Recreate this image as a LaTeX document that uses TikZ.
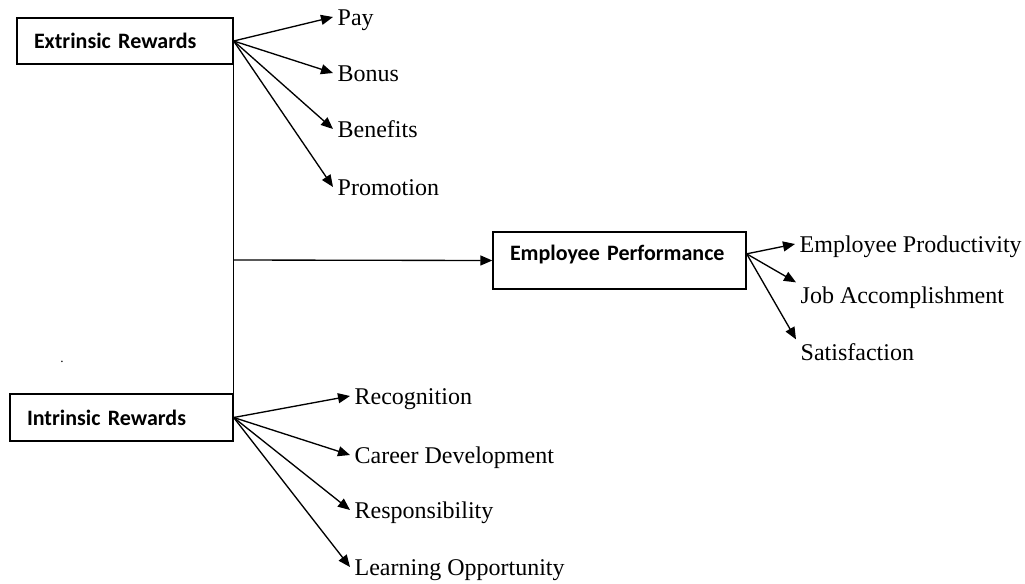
\documentclass[tikz,border=0pt]{standalone}
\usepackage{fontspec}
\setmainfont{Liberation Serif}
\newfontfamily\boxfont{Carlito}
\usetikzlibrary{arrows.meta}

\begin{document}
\begin{tikzpicture}[x=0.75pt,y=-0.75pt,line width=1pt,
		>={Triangle[length=9pt,width=7.5pt]},
		box/.style={draw,align=left,inner xsep=12.75pt,inner ysep=0pt,
			font=\boxfont\bfseries\fontsize{16.5}{19}\selectfont},
		item/.style={font=\fontsize{18}{21}\selectfont,inner sep=3pt,
			text height=12pt,text depth=0pt,anchor=west}]
	\useasboundingbox (0,0) rectangle (1025,583);
	% the three boxes
	\node[box,text width=136.5pt,minimum height=34.5pt] (ext) at (125,41) {Extrinsic Rewards};
	\node[box,text width=141.75pt,minimum height=35.25pt] (int) at (121.5,417.5) {Intrinsic Rewards};
	\node[box,text width=164.25pt,minimum height=42.75pt,text depth=12pt] (ep) at (619.5,260.5) {Employee Performance};
	\coordinate (mid) at (233,260);
	\coordinate (epout) at ([yshift=5pt]ep.east);
	\node[anchor=base] (dot) at (62,362) {.};
	% extrinsic items
	\node[item] (pay) at (333,17) {Pay};
	\node[item] (bonus) at (333,73) {Bonus};
	\node[item] (benefits) at (333,129) {Benefits};
	\node[item] (promotion) at (333,187) {Promotion};
	% intrinsic items
	\node[item] (recog) at (350,396) {Recognition};
	\node[item] (career) at (350,455) {Career Development};
	\node[item] (resp) at (350,510) {Responsibility};
	\node[item] (learn) at (350,567) {Learning Opportunity};
	% performance items
	\node[item] (prod) at (795,244) {Employee Productivity};
	\node[item] (job) at (796,295) {Job Accomplishment};
	\node[item] (satis) at (796,352) {Satisfaction};
	\draw (ext.south east) -- (int.north east);
	\path[->]
	(mid) edge (ep.west)
	(ext.east) edge (pay.west) edge (bonus.west) edge (benefits.west) edge (promotion.west)
	(int.east) edge (recog.west) edge (career.west) edge (resp.west) edge (learn.west)
	(epout) edge (prod.west) edge (job.north west) edge (satis.north west);
\end{tikzpicture}
\end{document}
